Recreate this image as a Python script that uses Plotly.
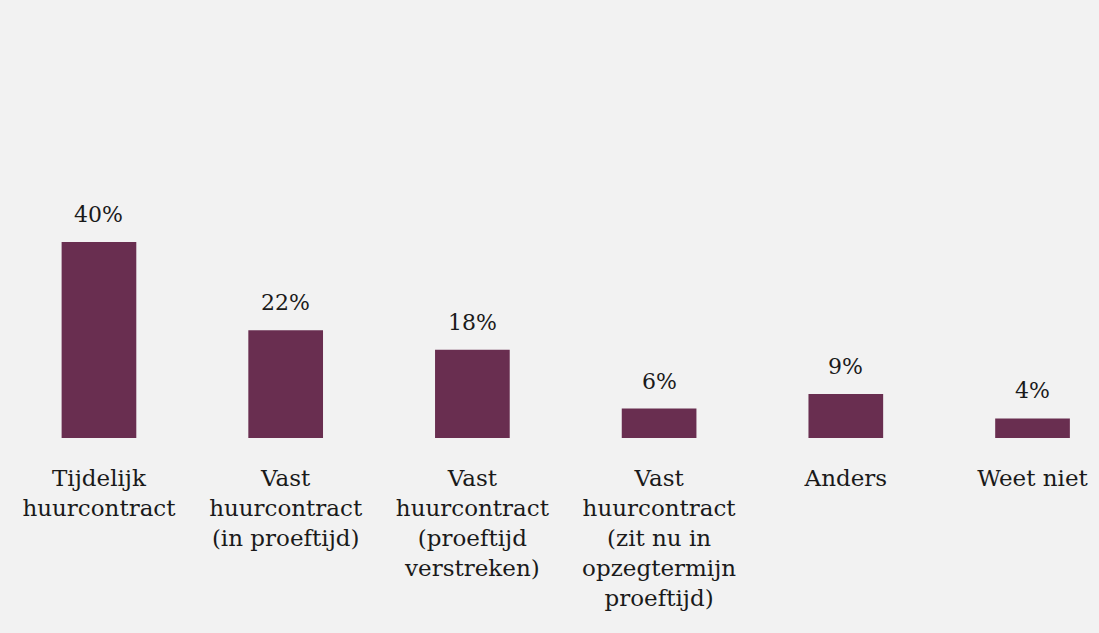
import plotly.graph_objects as go

categories = [
    "Tijdelijk<br>huurcontract",
    "Vast<br>huurcontract<br>(in proeftijd)",
    "Vast<br>huurcontract<br>(proeftijd<br>verstreken)",
    "Vast<br>huurcontract<br>(zit nu in<br>opzegtermijn<br>proeftijd)",
    "Anders",
    "Weet niet",
]
values = [40, 22, 18, 6, 9, 4]

BG = "#F2F2F2"
BAR = "#692E50"
FONT = "DejaVu Serif"
TEXT = "#1a1a1a"

x = list(range(len(categories)))

fig = go.Figure(
    go.Bar(
        x=x,
        y=values,
        width=0.4,
        marker=dict(color=BAR, line=dict(width=0)),
        hoverinfo="skip",
    )
)

# percentage labels above each bar
for xi, v in zip(x, values):
    fig.add_annotation(
        x=xi, y=v, text=f"{v}%", showarrow=False,
        yanchor="bottom", yshift=13,
        font=dict(family=FONT, size=22, color=TEXT),
    )

fig.update_layout(
    width=1099, height=633,
    paper_bgcolor=BG, plot_bgcolor=BG,
    margin=dict(l=0, r=0, t=193, b=195),
    showlegend=False,
    font=dict(family=FONT, size=23, color=TEXT),
    xaxis=dict(
        tickmode="array", tickvals=x, ticktext=categories,
        range=[-0.53, 5.356], showgrid=False, zeroline=False,
        showline=False, ticks="", ticklabelstandoff=24,
        tickfont=dict(family=FONT, size=23, color=TEXT),
    ),
    yaxis=dict(range=[0, 50], visible=False),
)

fig.write_html("out.html")
